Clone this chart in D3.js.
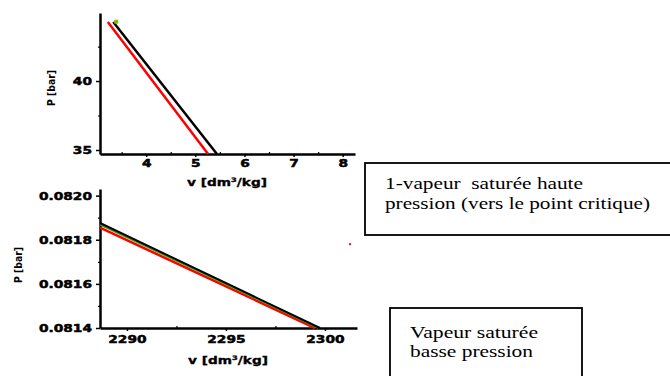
<!DOCTYPE html>
<html><head><meta charset="utf-8">
<script src="https://cdn.jsdelivr.net/npm/d3@7"></script>
<style>body{margin:0;background:#fff}svg{display:block}</style>
</head><body>
<svg id="c" width="670" height="376"></svg>
<script>
// Top panel: high-pressure saturated vapour
const topXTicks = [4, 5, 6, 7, 8];
const topYTicks = [35, 40];
const topBlackV = [3.33, 5.44];
const topBlackP = [44.28, 34.71];
const topRedV = [3.22, 5.26];
const topRedP = [44.28, 34.71];
const topGreenV = [3.39];
const topGreenP = [44.30];

// Bottom panel: low-pressure saturated vapour
const botXTicks = [2290, 2295, 2300];
const botYTicks = [0.0814, 0.0816, 0.0818, 0.0820];
const botBlackV = [2288.64, 2299.75];
const botBlackP = [0.081876, 0.081400];
const botGreenV = [2288.64, 2299.65];
const botGreenP = [0.081868, 0.081400];
const botRedV = [2288.64, 2299.5];
const botRedP = [0.081855, 0.081400];
const botStrayV = [2301.27];
const botStrayP = [0.08178];

const boxTexts1 = ["1-vapeur  saturée haute", "pression (vers le point critique)"];
const boxTexts2 = ["Vapeur saturée", "basse pression"];

const svg = d3.select("#c");
const tickFont = "'DejaVu Sans', Verdana, sans-serif";

function stretch(sel, k) {
  sel.each(function () {
    const L = this.getComputedTextLength();
    d3.select(this).attr("textLength", L * k).attr("lengthAdjust", "spacingAndGlyphs");
  });
}
function stretchTo(sel, w) {
  sel.attr("textLength", w).attr("lengthAdjust", "spacingAndGlyphs");
}

function panel(o) {
  const x = d3.scaleLinear().domain(o.xDom).range(o.xRange);
  const y = d3.scaleLinear().domain(o.yDom).range(o.yRange);
  const g = svg.append("g");
  const ax = g.append("g").attr("transform", `translate(0,${o.yRange[0]})`)
    .call(d3.axisBottom(x).tickValues(o.xTicks).tickSize(3).tickSizeOuter(0).tickFormat(o.xFmt));
  const ay = g.append("g").attr("transform", `translate(${o.xRange[0]},0)`)
    .call(d3.axisLeft(y).tickValues(o.yTicks).tickSize(4).tickSizeOuter(0).tickFormat(o.yFmt));
  [ax, ay].forEach(a => {
    a.select(".domain").attr("stroke", "#000").attr("stroke-width", 2.5);
    a.selectAll(".tick line").attr("stroke", "#000").attr("stroke-width", 1.5);
    a.selectAll("text").style("font-family", tickFont).style("font-weight", "bold")
      .style("font-size", "11px").attr("fill", "#000")
      .attr("stroke", "#000").attr("stroke-width", 0.5);
  });
  ax.selectAll("text").attr("dy", null).attr("y", o.xTickY);
  ay.selectAll("text").attr("x", -8);
  stretch(ax.selectAll("text"), 1.25);
  stretch(ay.selectAll("text"), 1.25);
  // minor ticks
  g.append("g").attr("transform", `translate(0,${o.yRange[0]})`)
    .call(d3.axisBottom(x).tickValues(o.xMinor).tickSize(-2).tickFormat(""))
    .call(s => { s.select(".domain").remove(); s.selectAll("line").attr("stroke", "#000").attr("stroke-width", 1.2); });
  g.append("g").attr("transform", `translate(${o.xRange[0]},0)`)
    .call(d3.axisLeft(y).tickValues(o.yMinor).tickSize(2).tickFormat(""))
    .call(s => { s.select(".domain").remove(); s.selectAll("line").attr("stroke", "#000").attr("stroke-width", 1.2); });

  const line = d3.line().x(d => x(d[0])).y(d => y(d[1]));
  o.series.forEach(s => {
    g.append("path").datum(d3.zip(s.v, s.p)).attr("d", line)
      .attr("fill", "none").attr("stroke", s.color).attr("stroke-width", s.w);
  });
  (o.points || []).forEach(s => {
    g.selectAll(null).data(d3.zip(s.v, s.p)).join("rect")
      .attr("x", d => x(d[0]) - s.r).attr("y", d => y(d[1]) - s.r)
      .attr("width", 2 * s.r).attr("height", 2 * s.r).attr("fill", s.color);
  });
  // axis titles
  const yt = g.append("text").attr("transform", `translate(${o.yLab[0]},${o.yLab[1]}) rotate(-90)`)
    .attr("text-anchor", "middle").style("font-family", tickFont).style("font-weight", "bold")
    .style("font-size", "10px").attr("dy", "0.35em").text("P [bar]");
  stretchTo(yt, 36);
  const xt = g.append("text").attr("x", o.xLab[0]).attr("y", o.xLab[1])
    .attr("text-anchor", "middle").style("font-family", tickFont).style("font-weight", "bold")
    .style("font-size", "10px").attr("stroke", "#000").attr("stroke-width", 0.3);
  xt.append("tspan").text("v [dm");
  xt.append("tspan").style("font-size", "6px").attr("dy", -4).text("3");
  xt.append("tspan").attr("dy", 4).text("/kg]");
  stretchTo(xt, 80);
}

panel({
  xDom: [3.06, 8.25], xRange: [100, 355],
  yDom: [34.71, 44.93], yRange: [154, 13],
  xTicks: topXTicks, yTicks: topYTicks,
  xMinor: [3.5, 4.5, 5.5, 6.5, 7.5], yMinor: [37.5, 42.5],
  xFmt: d3.format("d"), yFmt: d3.format("d"), xTickY: 13,
  series: [
    {v: topRedV, p: topRedP, color: "#ff0000", w: 2.5},
    {v: topBlackV, p: topBlackP, color: "#000", w: 2.5}
  ],
  points: [{v: topGreenV, p: topGreenP, color: "#7fbf00", r: 2}],
  yLab: [51, 88], xLab: [227, 186]
});

panel({
  xDom: [2288.64, 2301.62], xRange: [100, 357],
  yDom: [0.08140, 0.08203], yRange: [328, 189],
  xTicks: botXTicks, yTicks: botYTicks,
  xMinor: [2292.5, 2297.5], yMinor: [0.0815, 0.0817, 0.0819],
  xFmt: d3.format("d"), yFmt: d3.format(".4f"), xTickY: 15,
  series: [
    {v: botRedV, p: botRedP, color: "#ff0000", w: 2.5},
    {v: botGreenV, p: botGreenP, color: "#33aa00", w: 1.5},
    {v: botBlackV, p: botBlackP, color: "#000", w: 2}
  ],
  points: [{v: botStrayV, p: botStrayP, color: "#ff0000", r: 1}],
  yLab: [18, 265], xLab: [228, 364]
});

// text boxes
function box(x, y, w, h, tx, ty, lh, lines, widths, fs) {
  svg.append("rect").attr("x", x).attr("y", y).attr("width", w).attr("height", h)
    .attr("fill", "#fff").attr("stroke", "#000").attr("stroke-width", 1.8);
  lines.forEach((t, i) => svg.append("text").attr("x", tx).attr("y", ty + i * lh)
    .style("font-family", "'Liberation Serif', 'Times New Roman', serif")
    .style("font-size", fs + "px").attr("fill", "#000").style("white-space", "pre")
    .attr("textLength", widths[i]).attr("lengthAdjust", "spacingAndGlyphs").text(t));
}
box(365, 163, 320, 72, 385, 189, 20, boxTexts1, [198, 265], 17);
box(390, 308, 192, 90, 410, 338, 19, boxTexts2, [128, 123], 16);
</script>
</body></html>
